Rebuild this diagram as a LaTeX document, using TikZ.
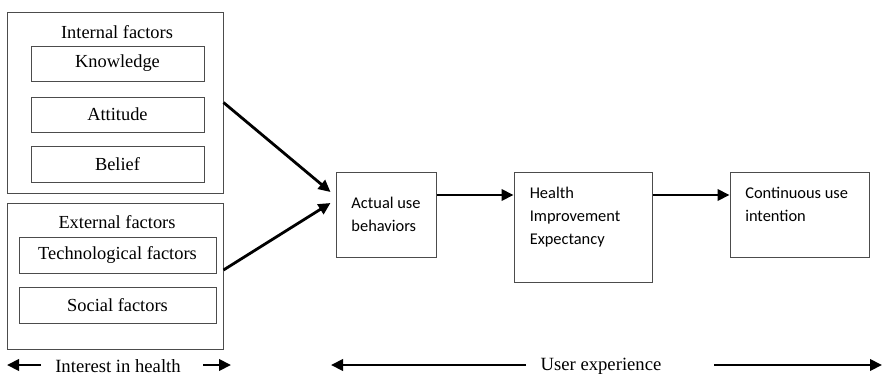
\documentclass[tikz,border=0pt]{standalone}
\usepackage{fontspec}
\setmainfont{Liberation Serif}
\newfontfamily\calibrifont{Carlito}
\usetikzlibrary{arrows.meta}

\begin{document}
\begin{tikzpicture}
                [
                x=0.75pt, y=-0.75pt,
                factor/.style={rectangle, draw=black!70, line width=0.75pt, inner sep=0pt, font=\fontsize{13.8}{16}\selectfont},
                heading/.style={inner sep=0pt, font=\fontsize{13.8}{16}\selectfont},
                stage/.style={rectangle, draw=black!70, line width=0.75pt, inner sep=0pt},
                stagetext/.style={inner sep=0pt, align=left, font=\calibrifont\fontsize{12.3}{17.25}\selectfont},
                flow/.style={-{Triangle[length=9pt,width=8.5pt]}, line width=2.1pt},
                spanlabel/.style={inner sep=0pt, font=\fontsize{14}{16}\selectfont}
                ]
                \useasboundingbox (0,0) rectangle (883,376);
                % Internal factors
                \node[factor, minimum width=162pt, minimum height=135.75pt] (internal) at (115,102.5) {};
                \node[heading] (internaltitle) at (117,32) {Internal factors};
                \node[factor, minimum width=129.75pt, minimum height=26.25pt] (knowledge) at (117.5,63.5) {Knowledge};
                \node[factor, minimum width=129.75pt, minimum height=26.25pt] (attitude) at (117.5,114.5) {Attitude};
                \node[factor, minimum width=129.75pt, minimum height=27pt] (belief) at (117.5,164) {Belief};
                % External factors
                \node[factor, minimum width=162pt, minimum height=109.5pt] (external) at (115,276) {};
                \node[heading] (externaltitle) at (117,222) {External factors};
                \node[factor, minimum width=147.75pt, minimum height=27pt] (technological) at (117.5,255) {Technological factors};
                \node[factor, minimum width=147.75pt, minimum height=27pt] (social) at (117.5,305) {Social factors};
                % Stages
                \node[stage, minimum width=75pt, minimum height=63.75pt] (actual) at (386,214.5) {};
                \node[stagetext] (actualtext) at (actual.center) {Actual use\\behaviors};
                \node[stage, minimum width=103.5pt, minimum height=82.5pt] (health) at (583,227) {};
                \node[stagetext, anchor=north west] (healthtext) at ([shift={(16,15)}]health.north west) {Health\\Improvement\\Expectancy};
                \node[stage, minimum width=104.25pt, minimum height=63.75pt] (continuous) at (799.5,214.5) {};
                \node[stagetext, anchor=north west] (continuoustext) at ([shift={(15.5,15)}]continuous.north west) {Continuous use\\intention};
                % Arrows
                \coordinate (flowline) at (0,195);
                \draw[flow] (internal.east) -- ([shift={(-5,-22.5)}]actual.west);
                \draw[flow] ([shift={(0,-6)}]external.east) -- ([shift={(-5,-11.5)}]actual.west);
                \draw[flow] (actual.east |- flowline) -- (health.west |- flowline);
                \draw[flow] (health.east |- flowline) -- (continuous.west |- flowline);
                % Bottom ranges
                \node[spanlabel] (interest) at (118,366) {Interest in health};
                \node[spanlabel] (experience) at (601,366) {User experience};
                \coordinate (interestL) at (41,365);
                \coordinate (interestLtip) at (7,365);
                \coordinate (interestR) at (203,365);
                \coordinate (interestRtip) at (231,365);
                \coordinate (experienceL) at (526,365);
                \coordinate (experienceLtip) at (331,365);
                \coordinate (experienceR) at (714,365);
                \coordinate (experienceRtip) at (882,365);
                \draw[flow] (interestL) -- (interestLtip);
                \draw[flow] (interestR) -- (interestRtip);
                \draw[flow] (experienceL) -- (experienceLtip);
                \draw[flow] (experienceR) -- (experienceRtip);
            \end{tikzpicture}
\end{document}
